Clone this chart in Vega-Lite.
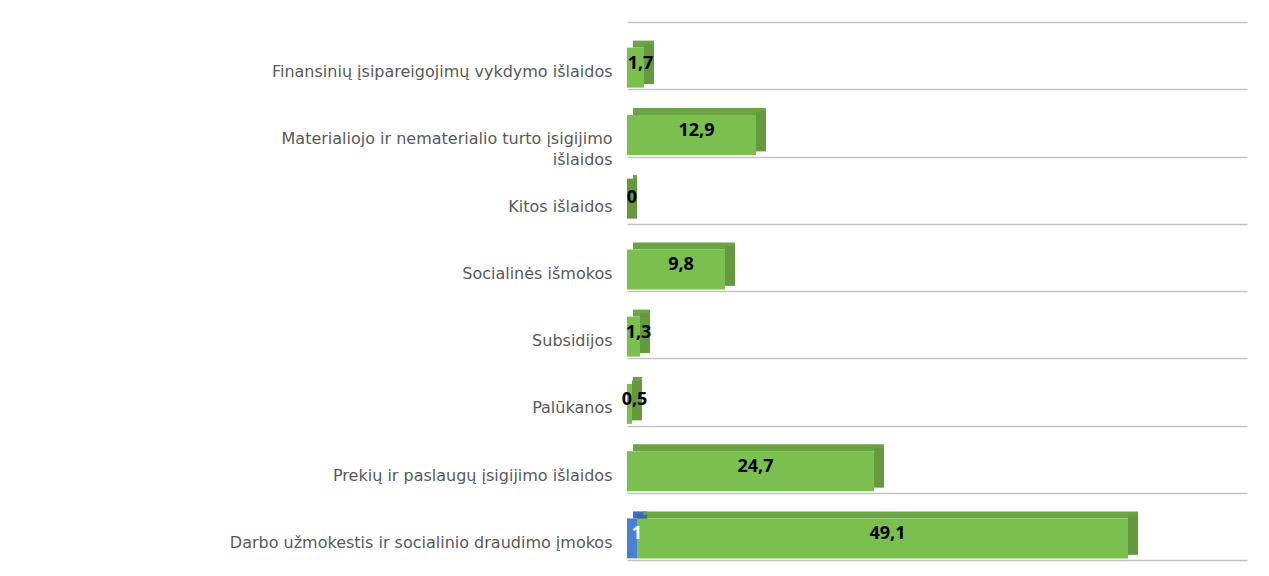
{
  "$schema": "https://vega.github.io/schema/vega-lite/v6.json",
  "width": 620,
  "height": 538,
  "autosize": {"type": "none"},
  "padding": {"left": 627, "top": 22, "right": 22, "bottom": 16},
  "background": "white",
  "config": {
    "view": {"stroke": null},
    "locale": {"number": {"decimal": ",", "thousands": " ", "grouping": [3], "currency": ["", " €"]}}
  },
  "data": {
    "values": [
      {"cat": "Finansinių įsipareigojimų vykdymo išlaidos", "series": "Series2", "value": 1.7},
      {"cat": "Materialiojo ir nematerialio turto įsigijimo išlaidos", "series": "Series2", "value": 12.9},
      {"cat": "Kitos išlaidos", "series": "Series2", "value": 0},
      {"cat": "Socialinės išmokos", "series": "Series2", "value": 9.8},
      {"cat": "Subsidijos", "series": "Series2", "value": 1.3},
      {"cat": "Palūkanos", "series": "Series2", "value": 0.5},
      {"cat": "Prekių ir paslaugų įsigijimo išlaidos", "series": "Series2", "value": 24.7},
      {"cat": "Darbo užmokestis ir socialinio draudimo įmokos", "series": "Series1", "value": 1},
      {"cat": "Darbo užmokestis ir socialinio draudimo įmokos", "series": "Series2", "value": 49.1}
    ]
  },
  "encoding": {
    "y": {
      "field": "cat",
      "type": "nominal",
      "sort": [
        "Finansinių įsipareigojimų vykdymo išlaidos",
        "Materialiojo ir nematerialio turto įsigijimo išlaidos",
        "Kitos išlaidos",
        "Socialinės išmokos",
        "Subsidijos",
        "Palūkanos",
        "Prekių ir paslaugų įsigijimo išlaidos",
        "Darbo užmokestis ir socialinio draudimo įmokos"
      ],
      "scale": {"paddingInner": 0, "paddingOuter": 0},
      "axis": {
        "title": null,
        "domain": false,
        "ticks": false,
        "grid": true,
        "tickBand": "extent",
        "gridColor": "#c4c4c4",
        "gridWidth": 1.6,
        "labelFont": "DejaVu Sans",
        "labelFontSize": 16,
        "labelColor": "#595959",
        "labelPadding": 15,
        "labelOffset": 16,
        "labelLimit": 0,
        "labelLineHeight": 21,
        "labelExpr": "datum.value == 'Materialiojo ir nematerialio turto įsigijimo išlaidos' ? ['Materialiojo ir nematerialio turto įsigijimo', 'išlaidos'] : datum.value"
      }
    }
  },
  "layer": [
    {
      "transform": [{"stack": "value", "groupby": ["cat"], "sort": [{"field": "series"}], "as": ["s0", "s1"]}],
      "mark": {"type": "bar", "height": 7, "yOffset": -11.5, "xOffset": 6, "x2Offset": 10},
      "encoding": {
        "x": {"field": "s0", "type": "quantitative", "scale": {"domain": [0, 62], "nice": false}, "axis": null},
        "x2": {"field": "s1"},
        "color": {"condition": {"test": "datum.series === 'Series1'", "value": "#3f6fc4"}, "value": "#6aa443"}
      }
    },
    {
      "transform": [{"stack": "value", "groupby": ["cat"], "sort": [{"field": "series"}], "as": ["s0", "s1"]}],
      "mark": {"type": "bar", "height": 40, "yOffset": 8.5, "x2Offset": 10},
      "encoding": {
        "x": {"field": "s1", "type": "quantitative"},
        "x2": {"field": "s1"},
        "color": {"condition": {"test": "datum.series === 'Series1'", "value": "#3a66b5"}, "value": "#64993e"}
      }
    },
    {
      "transform": [{"stack": "value", "groupby": ["cat"], "sort": [{"field": "series"}], "as": ["s0", "s1"]}],
      "mark": {"type": "bar", "height": 40, "yOffset": 12},
      "encoding": {
        "x": {"field": "s0", "type": "quantitative"},
        "x2": {"field": "s1"},
        "color": {"condition": {"test": "datum.series === 'Series1'", "value": "#4a7fd8"}, "value": "#7bbf4f"}
      }
    },
    {
      "mark": {"type": "text", "font": "Open Sans", "fontWeight": "bold", "fontSize": 18, "yOffset": 8, "dx": 5, "align": "center", "baseline": "middle"},
      "encoding": {
        "x": {"field": "value", "type": "quantitative", "stack": "zero", "bandPosition": 0.5},
        "order": {"field": "series"},
        "text": {"field": "value", "type": "quantitative", "format": ".1~f"},
        "color": {"condition": {"test": "datum.series === 'Series1'", "value": "white"}, "value": "black"}
      }
    }
  ]
}
